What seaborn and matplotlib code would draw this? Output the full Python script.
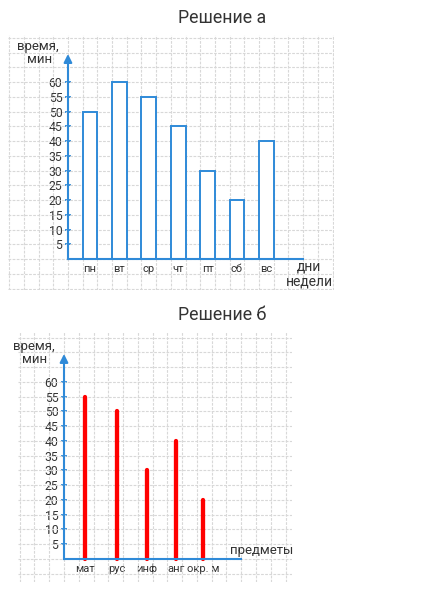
import matplotlib
matplotlib.use("Agg")
import numpy as np
import pandas as pd
import matplotlib.pyplot as plt
import seaborn as sns

# данные: решение а (дни недели)
days = ["пн", "вт", "ср", "чт", "пт", "сб", "вс"]
day_minutes = [50, 60, 55, 45, 30, 20, 40]

# данные: решение б (предметы)
subjects = ["мат", "рус", "инф", "анг", "окр. м"]
subject_minutes = [55, 50, 30, 40, 20]

y_ticks = [5, 10, 15, 20, 25, 30, 35, 40, 45, 50, 55, 60]

# положение столбиков на клетчатой сетке (в клетках от оси)
day_pos = [1.5, 3.5, 5.5, 7.5, 9.5, 11.5, 13.5]
subject_pos = [1.45, 3.6, 5.6, 7.6, 9.4]

BLUE = "#2f8ad8"
RED = "#ff0000"
GRID = "#d8d8d8"
TEXT = "#333333"

sns.set_theme(style="white")
plt.rcParams["font.family"] = ["Roboto", "DejaVu Sans"]

fig = plt.figure(figsize=(4.43, 6.0), dpi=100)


def squared_paper(ax, xlim, ylim, x_end, arrow_top):
    """Клетчатая бумага + оси со стрелкой."""
    ax.set_xlim(*xlim)
    ax.set_ylim(*ylim)
    ax.xaxis.remove_overlapping_locs = False
    ax.yaxis.remove_overlapping_locs = False
    ax.set_xticks(np.arange(np.ceil(xlim[0]), np.floor(xlim[1]) + 1), minor=True)
    ax.set_yticks(np.arange(np.ceil(ylim[0] / 5) * 5, ylim[1], 5), minor=True)
    ax.grid(False)
    ax.grid(which="minor", color=GRID, linestyle=(0, (2.5, 1.2)), linewidth=0.8)
    ax.set_axisbelow(True)
    ax.tick_params(which="minor", length=0)
    ax.patch.set_alpha(0)

    for name in ("top", "right"):
        ax.spines[name].set_visible(False)
    for name in ("left", "bottom"):
        ax.spines[name].set_position(("data", 0))
        ax.spines[name].set_color(BLUE)
        ax.spines[name].set_linewidth(1.5)
        ax.spines[name].set_zorder(3)
    ax.spines["bottom"].set_bounds(0, x_end)
    ax.spines["left"].set_bounds(0, arrow_top - 2)

    ax.annotate("", xy=(0, arrow_top), xytext=(0, arrow_top - 3),
                arrowprops=dict(arrowstyle="-|>", color=BLUE, lw=1.5,
                                mutation_scale=12, shrinkA=0, shrinkB=0))

    ax.set_yticks(y_ticks)
    ax.set_yticklabels([str(v) for v in y_ticks])
    ax.tick_params(axis="y", which="major", direction="inout", length=5,
                   width=1.3, color=BLUE, labelsize=8.8, labelcolor=TEXT,
                   pad=1.5, left=True)
    ax.tick_params(axis="x", which="major", length=0, labelsize=8,
                   labelcolor=TEXT, pad=3.5, bottom=True)
    ax.set_xlabel("")
    ax.set_ylabel("")


# ---------- Решение а ----------
ax1 = fig.add_axes([7.7 / 443, (600 - 290) / 600, 326.3 / 443, (290 - 34.8) / 600])
df_a = pd.DataFrame({"pos": day_pos, "minutes": day_minutes})
sns.barplot(data=df_a, x="pos", y="minutes", native_scale=True, width=0.5,
            color="white", saturation=1, edgecolor=BLUE, linewidth=1.4,
            errorbar=None, ax=ax1, zorder=2)
squared_paper(ax1, (-4.1, 18.1), (-10.5, 76), 16, 69.5)
ax1.set_xticks(day_pos)
ax1.set_xticklabels(days)
ax1.text(-2.04, 72.2, "время,", ha="center", va="center", fontsize=9.5, color=TEXT)
ax1.text(-1.95, 67.5, "мин", ha="center", va="center", fontsize=9.5, color=TEXT)
ax1.text(16.4, -2.7, "дни", ha="center", va="center", fontsize=10, color=TEXT)
ax1.text(16.4, -7.5, "недели", ha="center", va="center", fontsize=10, color=TEXT)

# ---------- Решение б ----------
ax2 = fig.add_axes([18.2 / 443, 18 / 600, 273.3 / 443, 250.2 / 600])
ax2.vlines(subject_pos, 0, subject_minutes, color=RED, linewidth=3.1,
           capstyle="round", zorder=2)
squared_paper(ax2, (-3.1, 15.4), (-7.8, 77), 12, 69.5)
ax2.set_xticks(subject_pos)
ax2.set_xticklabels(subjects)
ax2.text(-2.03, 72.0, "время,", ha="center", va="center", fontsize=9.5, color=TEXT)
ax2.text(-2.0, 67.5, "мин", ha="center", va="center", fontsize=9.5, color=TEXT)
ax2.text(13.37, 3.0, "предметы", ha="center", va="center", fontsize=9.5, color=TEXT)

fig.text(222 / 443, 1 - 18 / 600, "Решение а", ha="center", va="center",
         fontsize=12.8, color="#333333")
fig.text(222 / 443, 1 - 315 / 600, "Решение б", ha="center", va="center",
         fontsize=12.8, color="#333333")

fig.savefig("out.png", dpi=100)
